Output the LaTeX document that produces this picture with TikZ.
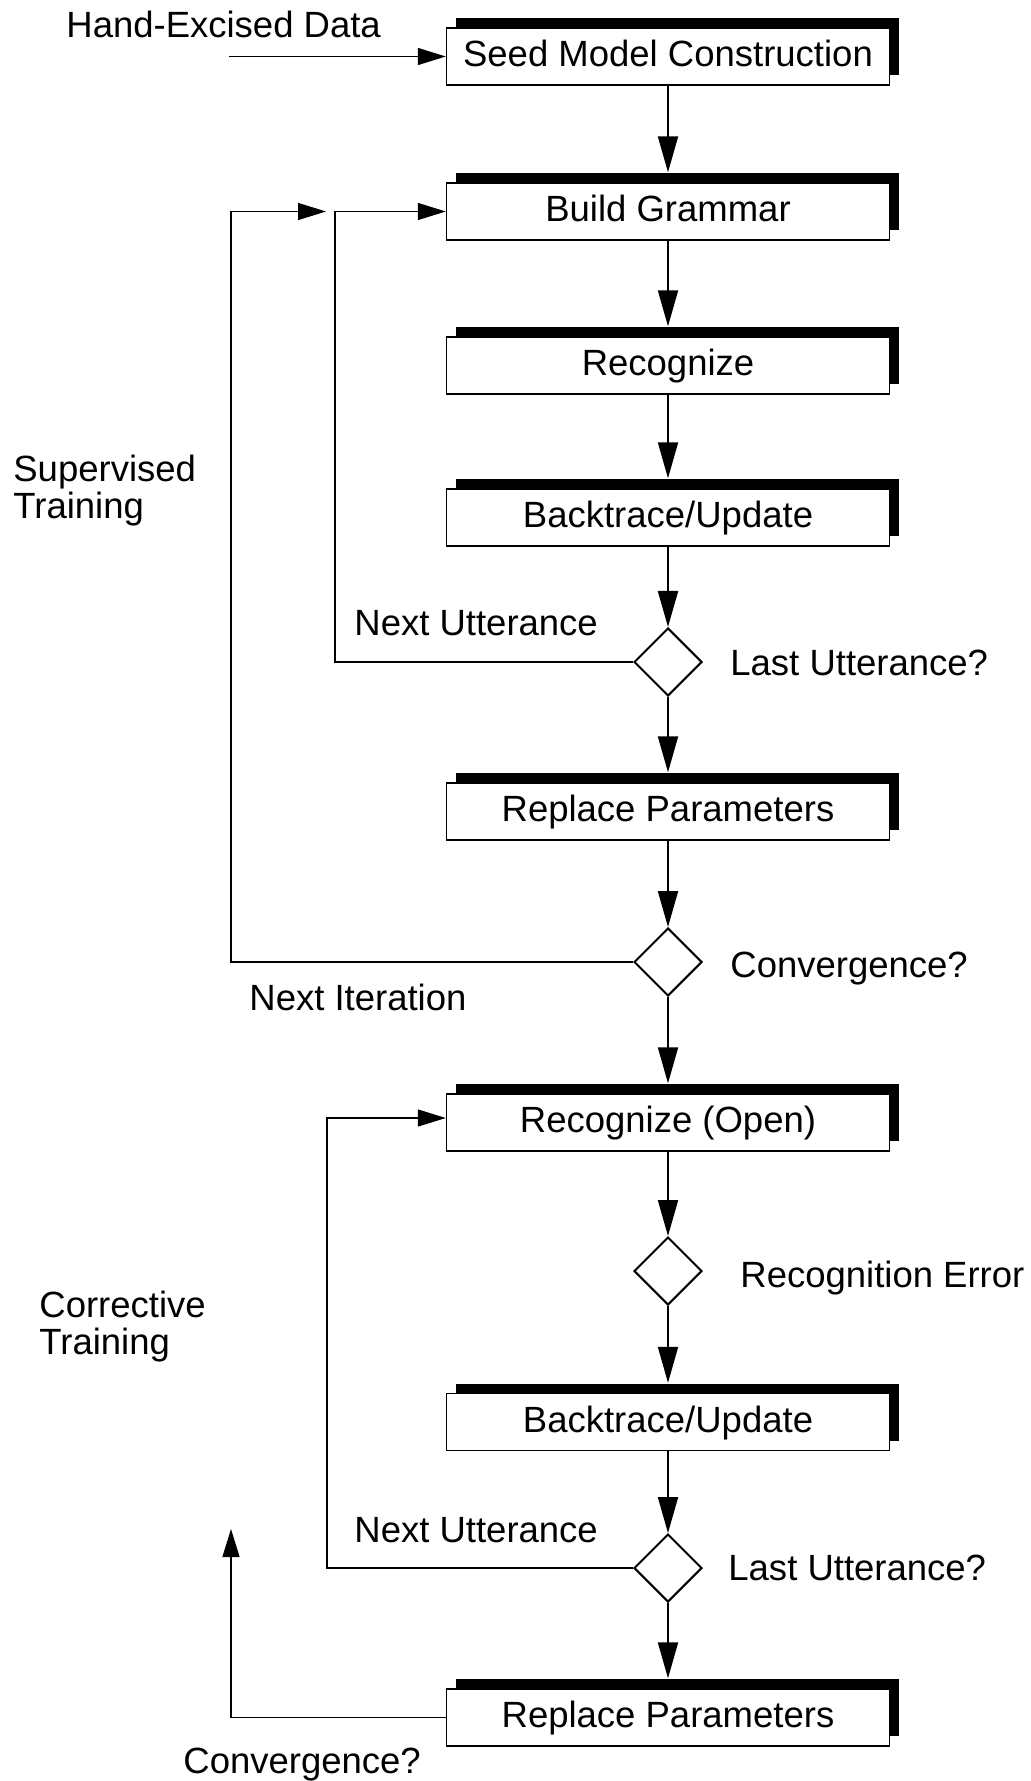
\documentclass[tikz,border=0pt]{standalone}
\usepackage{fontspec}
\setmainfont{Liberation Sans}
\usetikzlibrary{arrows.meta,shapes.geometric,shadows}
\begin{document}
\begin{tikzpicture}[x=0.5pt,y=-0.5pt,font=\fontsize{18.25pt}{18.5pt}\selectfont,
  box/.style={draw,line width=.7pt,fill=white,minimum width=221.5pt,minimum height=28.5pt,inner sep=0pt,
    text height=14pt,text depth=4pt,drop shadow={shadow xshift=4.5pt,shadow yshift=5pt,fill=black,opacity=1}},
  test/.style={draw,diamond,aspect=1,line width=1pt,minimum width=34pt,minimum height=34pt,inner sep=0pt},
  flow/.style={line width=1pt,-{Triangle[length=18pt,width=10pt]}},
  back/.style={line width=.7pt,-{Triangle[length=14pt,width=8.5pt]}},
  lbl/.style={anchor=base west,inner sep=0pt,align=left}]
\useasboundingbox (0,0) rectangle (1031,1781);
\foreach \n/\y/\t in {seed/56.5/Seed Model Construction,build/211.5/Build Grammar,recog/365.5/Recognize,
  back1/517.5/{Backtrace/Update},repl1/811.5/Replace Parameters,recopen/1122.5/Recognize (Open),
  back2/1422/{Backtrace/Update},repl2/1717.5/Replace Parameters} {
  \node[box] (\n) at (668,\y) {\t};
}
\foreach \n/\y in {last1/662,conv1/962,recerr/1271,last2/1568} {
  \node[test] (\n) at (668,\y) {};
}
\node[lbl] (handlbl) at (66,38) {Hand-Excised Data};
\node[lbl,anchor=north west] (suplbl) at (13,455) {Supervised\\Training};
\node[lbl,anchor=north west] (corlbl) at (39,1291) {Corrective\\Training};
\node[lbl] (nextlbl1) at (354,635) {Next Utterance};
\node[lbl] (lastlbl1) at (730,675) {Last Utterance?};
\node[lbl] (convlbl1) at (730,977) {Convergence?};
\node[lbl] (iterlbl) at (249,1010) {Next Iteration};
\node[lbl] (errlbl) at (740,1287) {Recognition Error};
\node[lbl] (nextlbl2) at (354,1542) {Next Utterance};
\node[lbl] (lastlbl2) at (728,1580) {Last Utterance?};
\node[lbl] (convlbl2) at (183,1773) {Convergence?};
% main column
\foreach \a/\b in {seed/build,build/recog,recog/back1,last1/repl1,conv1/recopen,recerr/back2,last2/repl2} {
  \draw[flow,shorten >=5pt] (\a) -- (\b);
}
\foreach \a/\b in {back1/last1,repl1/conv1,recopen/recerr,back2/last2} {
  \draw[flow] (\a) -- (\b);
}
% loops
\coordinate (hand) at (229,0 |- seed.west);
\coordinate (it1) at (326,0 |- build.west);
\coordinate (it2) at (231,1529);
\draw[back] (hand) -- (seed.west);
\draw[back] (last1.west) -| (335,0 |- build.west) -- (build.west);
\draw[back] (conv1.west) -| (231,0 |- build.west) -- (it1);
\draw[back] (last2.west) -| (327,1118) -- (recopen.west |- 0,1118);
\draw[back] (repl2.west) -| (it2);
\end{tikzpicture}
\end{document}
